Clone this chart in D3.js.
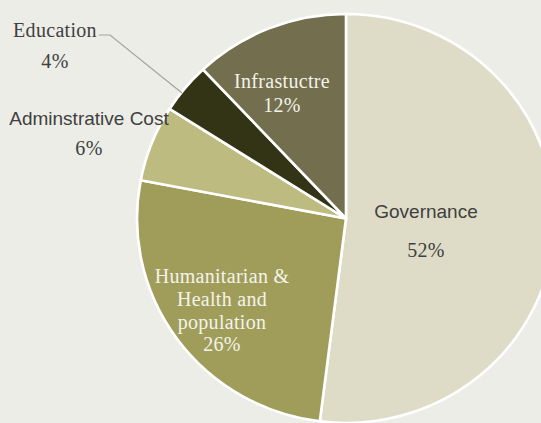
<!DOCTYPE html>
<html>
<head>
<meta charset="utf-8">
<script src="https://cdn.jsdelivr.net/npm/d3@7"></script>
<style>
  html, body { margin: 0; padding: 0; background: #EDEDE8; }
  svg { display: block; }
</style>
</head>
<body>
<svg id="chart" width="541" height="423"></svg>
<script>
// Share of funding by sector (percent)
const categories = ["Governance", "Humanitarian & Health and population", "Adminstrative Cost", "Education", "Infrastuctre"];
const values = [52, 26, 6, 4, 12];
const colors = ["#DEDCC7", "#A09D5A", "#BEBB80", "#333316", "#736E4D"];

// Label text lines per slice (the percentage is added from values)
const labelLines = [
  ["Governance"],
  ["Humanitarian &", "Health and", "population"],
  ["Adminstrative Cost"],
  ["Education"],
  ["Infrastuctre"]
];

// Label placement and styling
const labelLayout = [
  { x: 426, y: [218, 257], fonts: ["sans", "serif"], fill: "#404040" },
  { x: 222, y: [283, 306, 328.5, 351], fonts: ["serif", "serif", "serif", "serif"], fill: "#F4F3EA" },
  { x: 89, y: [125, 155], fonts: ["sans", "serif"], fill: "#404040" },
  { x: 55, y: [36.5, 68], fonts: ["serif", "serif"], fill: "#404040" },
  { x: 282, y: [88, 112], fonts: ["serif", "serif"], fill: "#F4F3EA" }
];

const svg = d3.select("#chart");
const W = 541, H = 423;
svg.append("rect").attr("width", W).attr("height", H).attr("fill", "#EDEDE8");

const cx = 346, cy = 218.5, R = 206.5;

const pie = d3.pie().sort(null).value(d => d.value);
const arc = d3.arc().innerRadius(0).outerRadius(R);

const data = categories.map((c, i) => ({ name: c, value: values[i], color: colors[i] }));

const g = svg.append("g")
  .attr("transform", `translate(${cx},${cy}) scale(1.012,0.99)`);

g.selectAll("path")
  .data(pie(data))
  .join("path")
  .attr("d", arc)
  .attr("fill", d => d.data.color)
  .attr("stroke", "#FFFFFF")
  .attr("stroke-width", 2.6)
  .attr("stroke-linejoin", "miter");

// Leader line for the small Education slice
svg.append("polyline")
  .attr("points", "99,35 110,35 182,93")
  .attr("fill", "none")
  .attr("stroke", "#A3A3A0")
  .attr("stroke-width", 1.2);

const fontFamilies = {
  sans: "'Liberation Sans', Arial, sans-serif",
  serif: "'Liberation Serif', 'Times New Roman', serif"
};
const fontSizes = { sans: 19, serif: 20 };
const spacing = { sans: 0, serif: 0.3 };

data.forEach((d, i) => {
  const lines = labelLines[i].concat([d.value + "%"]);
  const lay = labelLayout[i];
  const t = svg.append("g");
  lines.forEach((line, j) => {
    const f = lay.fonts[j];
    t.append("text")
      .attr("x", lay.x)
      .attr("y", lay.y[j])
      .attr("text-anchor", "middle")
      .attr("font-family", fontFamilies[f])
      .attr("font-size", fontSizes[f])
      .attr("letter-spacing", spacing[f])
      .attr("fill", lay.fill)
      .text(line);
  });
});
</script>
</body>
</html>
